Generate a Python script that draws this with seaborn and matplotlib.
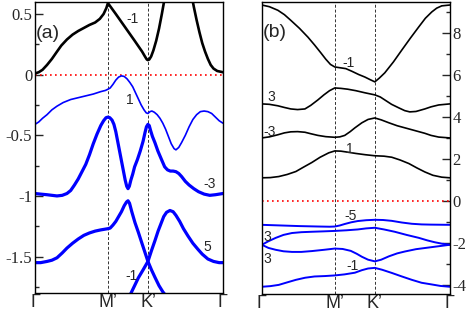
import numpy as np
import matplotlib
matplotlib.use('Agg')
import matplotlib.pyplot as plt
import seaborn as sns
from matplotlib.ticker import MultipleLocator

sns.set_style('ticks')
plt.rcParams['font.family'] = ['Liberation Serif', 'DejaVu Serif']
plt.rcParams['axes.unicode_minus'] = False

# k-path positions (fraction of path length)
X_M = 0.388
X_K = 0.601
K_TICKS = [0.0, X_M, X_K, 1.0]
K_LABELS = ['Γ', 'M’', 'K’', 'Γ']

# ---- panel (a) ----
a_black_x = [0, 0.02, 0.04, 0.064, 0.09, 0.117, 0.14, 0.17, 0.2, 0.23, 0.26, 0.29,
             0.32, 0.345, 0.365, 0.38, 0.388, 0.43, 0.48, 0.53, 0.57, 0.585, 0.595,
             0.601, 0.608, 0.618, 0.63, 0.645, 0.66, 0.675, 0.69, 0.76, 0.83, 0.845,
             0.86, 0.875, 0.89, 0.905, 0.92, 0.935, 0.95, 0.97, 1.0]
a_black_y = [0.01, 0.02, 0.04, 0.08, 0.13, 0.19, 0.24, 0.29, 0.33, 0.36, 0.385, 0.41,
             0.43, 0.46, 0.50, 0.55, 0.59, 0.50, 0.39, 0.28, 0.19, 0.15, 0.125,
             0.12, 0.125, 0.15, 0.20, 0.28, 0.38, 0.50, 0.63, 1.0, 0.68, 0.56,
             0.45, 0.35, 0.26, 0.19, 0.13, 0.08, 0.05, 0.03, 0.02]

a_thin_x = [0, 0.02, 0.04, 0.064, 0.09, 0.117, 0.15, 0.19, 0.23, 0.27, 0.31, 0.35,
            0.375, 0.388, 0.40, 0.415, 0.43, 0.445, 0.46, 0.475, 0.49, 0.505, 0.52,
            0.535, 0.55, 0.565, 0.58, 0.592, 0.601, 0.612, 0.622, 0.635, 0.65, 0.665,
            0.68, 0.695, 0.71, 0.725, 0.74, 0.75, 0.765, 0.78, 0.8, 0.82, 0.84, 0.86,
            0.88, 0.9, 0.92, 0.94, 0.96, 0.98, 1.0]
a_thin_y = [-0.41, -0.39, -0.36, -0.33, -0.29, -0.26, -0.23, -0.205, -0.19, -0.175, -0.16, -0.14,
            -0.13, -0.12, -0.11, -0.08, -0.045, -0.02, -0.01, -0.015, -0.035, -0.065, -0.10,
            -0.15, -0.20, -0.25, -0.29, -0.315, -0.32, -0.305, -0.30, -0.31, -0.33, -0.36,
            -0.40, -0.45, -0.51, -0.57, -0.61, -0.62, -0.60, -0.56, -0.50, -0.43, -0.37, -0.33,
            -0.305, -0.30, -0.305, -0.32, -0.35, -0.38, -0.40]

a_m3_x = [0, 0.03, 0.064, 0.09, 0.117, 0.145, 0.17, 0.19, 0.21, 0.23, 0.25, 0.27,
          0.29, 0.31, 0.33, 0.35, 0.365, 0.378, 0.388, 0.398, 0.41, 0.42, 0.43, 0.44,
          0.45, 0.46, 0.47, 0.48, 0.488, 0.495, 0.502, 0.51, 0.52, 0.53, 0.545, 0.56,
          0.575, 0.585, 0.593, 0.601, 0.608, 0.615, 0.625, 0.638, 0.654, 0.676, 0.69,
          0.705, 0.72, 0.735, 0.75, 0.765, 0.78, 0.80, 0.82, 0.845, 0.87, 0.9, 0.93,
          0.96, 1.0]
a_m3_y = [-0.98, -0.985, -0.99, -0.995, -1.0, -0.995, -0.98, -0.955, -0.91, -0.86, -0.80, -0.74,
          -0.66, -0.57, -0.49, -0.42, -0.38, -0.355, -0.35, -0.355, -0.375, -0.41, -0.47, -0.55,
          -0.63, -0.71, -0.79, -0.87, -0.92, -0.94, -0.92, -0.87, -0.82, -0.76, -0.70, -0.63,
          -0.55, -0.48, -0.43, -0.41, -0.42, -0.46, -0.51, -0.56, -0.63, -0.71, -0.76,
          -0.785, -0.795, -0.795, -0.80, -0.815, -0.84, -0.88, -0.91, -0.94, -0.965, -0.985, -0.995,
          -0.99, -0.98]

a_p5_x = [0, 0.03, 0.064, 0.09, 0.117, 0.145, 0.17, 0.2, 0.23, 0.26, 0.29, 0.32, 0.35,
          0.388, 0.40, 0.415, 0.43, 0.445, 0.46, 0.475, 0.487, 0.495, 0.503, 0.515,
          0.532, 0.55, 0.569, 0.585, 0.601, 0.62, 0.638, 0.66, 0.68, 0.70]
a_p5_y = [-1.55, -1.55, -1.54, -1.53, -1.51, -1.47, -1.43, -1.39, -1.355, -1.325, -1.305, -1.29, -1.28,
          -1.27, -1.265, -1.24, -1.21, -1.17, -1.13, -1.08, -1.05, -1.04, -1.06, -1.13,
          -1.22, -1.30, -1.39, -1.465, -1.54, -1.61, -1.67, -1.74, -1.79, -1.83]

a_m1_x = [0.505, 0.53, 0.55, 0.575, 0.601, 0.62, 0.638, 0.655, 0.67, 0.685, 0.70, 0.718,
          0.735, 0.75, 0.77, 0.79, 0.814, 0.84, 0.867, 0.89, 0.92, 0.95, 0.98, 1.0]
a_m1_y = [-1.82, -1.74, -1.675, -1.61, -1.54, -1.45, -1.37, -1.29, -1.23, -1.17, -1.135, -1.12,
          -1.13, -1.16, -1.21, -1.27, -1.33, -1.39, -1.44, -1.48, -1.52, -1.54, -1.55, -1.55]

# ---- panel (b) ----
b_c1_x = [0, 0.04, 0.085, 0.12, 0.154, 0.2, 0.245, 0.28, 0.314, 0.34, 0.365, 0.388,
          0.41, 0.447, 0.48, 0.515, 0.548, 0.575, 0.601, 0.625, 0.654, 0.7, 0.745,
          0.79, 0.835, 0.87, 0.904, 0.93, 0.957, 1.0]
b_c1_y = [9.33, 9.25, 9.08, 8.87, 8.6, 8.22, 7.8, 7.43, 7.05, 6.75, 6.5, 6.38,
          6.35, 6.3, 6.17, 6.02, 5.9, 5.78, 5.67, 5.85, 6.1, 6.62, 7.19,
          7.75, 8.29, 8.7, 9.0, 9.18, 9.29, 9.33]

b_c2_x = [0, 0.04, 0.085, 0.12, 0.154, 0.19, 0.229, 0.26, 0.298, 0.33, 0.36, 0.388,
          0.42, 0.457, 0.5, 0.548, 0.601, 0.63, 0.654, 0.69, 0.729, 0.76, 0.787,
          0.82, 0.867, 0.9, 0.941, 1.0]
b_c2_y = [4.62, 4.6, 4.53, 4.45, 4.38, 4.35, 4.38, 4.55, 4.81, 5.05, 5.25, 5.38,
          5.36, 5.32, 5.25, 5.15, 5.05, 4.95, 4.81, 4.6, 4.43, 4.3, 4.24,
          4.26, 4.38, 4.48, 4.57, 4.62]

b_c3_x = [0, 0.04, 0.085, 0.12, 0.154, 0.19, 0.229, 0.26, 0.298, 0.34, 0.388, 0.415,
          0.441, 0.47, 0.495, 0.532, 0.565, 0.601, 0.635, 0.676, 0.72, 0.761, 0.81,
          0.867, 0.9, 0.941, 1.0]
b_c3_y = [3.0, 3.05, 3.15, 3.24, 3.29, 3.3, 3.27, 3.2, 3.12, 3.06, 3.03, 3.05,
          3.12, 3.3, 3.48, 3.72, 3.88, 3.95, 3.86, 3.72, 3.58, 3.48, 3.36,
          3.22, 3.12, 3.04, 3.0]

b_c4_x = [0, 0.045, 0.09, 0.135, 0.181, 0.22, 0.266, 0.31, 0.356, 0.388, 0.42, 0.45,
          0.5, 0.55, 0.601, 0.65, 0.691, 0.735, 0.782, 0.825, 0.867, 0.91, 0.957, 1.0]
b_c4_y = [1.1, 1.11, 1.16, 1.26, 1.4, 1.6, 1.83, 2.08, 2.29, 2.38, 2.37, 2.33,
          2.26, 2.2, 2.15, 2.13, 2.08, 1.95, 1.78, 1.57, 1.38, 1.22, 1.13, 1.1]

b_v1_x = [0, 0.1, 0.2, 0.3, 0.36, 0.388, 0.415, 0.441, 0.475, 0.51, 0.555, 0.601,
          0.645, 0.691, 0.745, 0.798, 0.85, 0.9, 1.0]
b_v1_y = [-1.14, -1.17, -1.2, -1.22, -1.23, -1.22, -1.17, -1.1, -1.02, -0.96, -0.92, -0.9,
          -0.91, -0.95, -1.03, -1.09, -1.12, -1.13, -1.14]

b_v2_x = [0, 0.035, 0.074, 0.115, 0.16, 0.21, 0.266, 0.33, 0.388, 0.45, 0.51, 0.555,
          0.601, 0.65, 0.707, 0.77, 0.835, 0.88, 0.92, 0.96, 1.0]
b_v2_y = [-2.09, -1.92, -1.76, -1.62, -1.53, -1.49, -1.47, -1.45, -1.43, -1.4, -1.36, -1.31,
          -1.28, -1.36, -1.47, -1.62, -1.76, -1.88, -1.97, -2.04, -2.09]

b_v3_x = [0, 0.035, 0.074, 0.115, 0.16, 0.21, 0.266, 0.33, 0.388, 0.43, 0.473, 0.505,
          0.532, 0.565, 0.601, 0.635, 0.676, 0.72, 0.761, 0.82, 0.888, 0.94, 1.0]
b_v3_y = [-2.09, -2.24, -2.33, -2.4, -2.43, -2.43, -2.39, -2.33, -2.27, -2.29, -2.38, -2.52,
          -2.66, -2.8, -2.88, -2.8, -2.64, -2.5, -2.41, -2.3, -2.22, -2.16, -2.09]

b_v4_x = [0, 0.045, 0.09, 0.135, 0.181, 0.23, 0.28, 0.335, 0.388, 0.44, 0.495, 0.532,
          0.565, 0.601, 0.64, 0.691, 0.745, 0.798, 0.85, 0.904, 0.95, 1.0]
b_v4_y = [-4.09, -4.06, -4.0, -3.88, -3.76, -3.66, -3.6, -3.58, -3.55, -3.5, -3.42, -3.3,
          -3.22, -3.19, -3.28, -3.43, -3.6, -3.76, -3.9, -3.98, -4.05, -4.09]

BLUE = '#0000ff'
BLACK = '#000000'
SANS = ['Liberation Sans', 'DejaVu Sans']
SERIF = ['Liberation Serif', 'DejaVu Serif']


def draw(ax, x, y, color, lw):
    sns.lineplot(x=x, y=y, ax=ax, color=color, linewidth=lw, sort=False,
                 estimator=None, legend=False)


def style_axes(ax, ylim, major, minor, right=False):
    ax.set_xlim(0, 1)
    ax.set_ylim(*ylim)
    for xv in [X_M, X_K]:
        ax.axvline(xv, color='#333333', linestyle=(0, (3, 2)), linewidth=0.7, zorder=1)
    ax.axhline(0, color='#ff0000', linestyle=(0, (1, 2)), linewidth=1.2, zorder=1)
    ax.set_xticks(K_TICKS)
    ax.set_xticklabels(K_LABELS, fontsize=13, family=SANS)
    ax.tick_params(axis='x', length=0, pad=1)
    ax.yaxis.set_major_locator(MultipleLocator(major))
    ax.yaxis.set_minor_locator(MultipleLocator(minor))
    ax.yaxis.set_major_formatter(plt.FuncFormatter(lambda v, p: f'{v:g}'))
    if right:
        ax.yaxis.tick_right()
    ax.tick_params(axis='y', which='major', direction='in', length=6, width=1,
                   labelsize=12, pad=2)
    ax.tick_params(axis='y', which='minor', direction='in', length=3, width=1)
    for lab in ax.get_yticklabels():
        lab.set_fontfamily(SERIF)
    for s in ax.spines.values():
        s.set_visible(True)
        s.set_linewidth(1.0)
        s.set_color('black')
    ax.set_xlabel('')
    ax.set_ylabel('')


fig = plt.figure(figsize=(4.71, 3.12), dpi=100)
ax_a = fig.add_axes([0.0743, 0.061, 0.399, 0.933])
ax_b = fig.add_axes([0.556, 0.058, 0.399, 0.936])

# panel (a)
draw(ax_a, a_black_x, a_black_y, BLACK, 1.9)
draw(ax_a, a_thin_x, a_thin_y, BLUE, 1.2)
draw(ax_a, a_m3_x, a_m3_y, BLUE, 2.3)
draw(ax_a, a_p5_x, a_p5_y, BLUE, 2.3)
draw(ax_a, a_m1_x, a_m1_y, BLUE, 2.3)
style_axes(ax_a, (-1.8, 0.6), 0.5, 0.25)

ax_a.text(0.07, 0.34, '(a)', fontsize=14, family=SANS, ha='center', va='center')
for tx, ty, s in [(0.52, 0.46, '-1'), (0.505, -0.21, '1'), (0.93, -0.9, '-3'),
                  (0.915, -1.42, '5'), (0.515, -1.66, '-1')]:
    ax_a.text(tx, ty, s, fontsize=10, family=SANS, ha='center', va='center')

# panel (b)
for xs, ys in [(b_c1_x, b_c1_y), (b_c2_x, b_c2_y), (b_c3_x, b_c3_y), (b_c4_x, b_c4_y)]:
    draw(ax_b, xs, ys, BLACK, 1.2)
for xs, ys in [(b_v1_x, b_v1_y), (b_v2_x, b_v2_y), (b_v3_x, b_v3_y), (b_v4_x, b_v4_y)]:
    draw(ax_b, xs, ys, BLUE, 1.4)
style_axes(ax_b, (-4.43, 9.48), 2, 1, right=True)

ax_b.text(0.07, 8.0, '(b)', fontsize=14, family=SANS, ha='center', va='center')
for tx, ty, s in [(0.46, 6.55, '-1'), (0.05, 4.95, '3'), (0.04, 3.3, '-3'),
                  (0.47, 2.45, '1'), (0.47, -0.7, '-5'), (0.03, -1.7, '3'),
                  (0.03, -2.75, '3'), (0.48, -3.1, '-1')]:
    ax_b.text(tx, ty, s, fontsize=10, family=SANS, ha='center', va='center')

fig.savefig('out.png', dpi=100)
